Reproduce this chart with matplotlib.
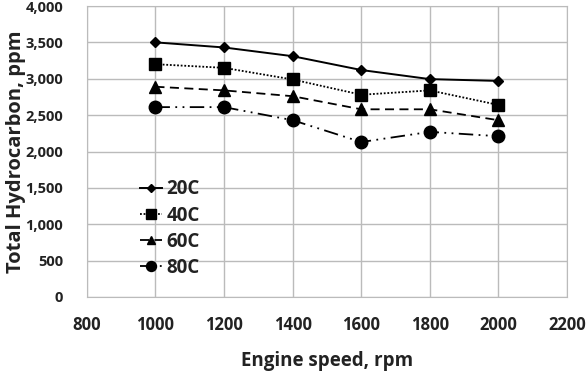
import matplotlib
matplotlib.use("Agg")
import matplotlib.pyplot as plt
from matplotlib.ticker import FuncFormatter

speed = [1000, 1200, 1400, 1600, 1800, 2000]
thc_20 = [3500, 3430, 3310, 3120, 2995, 2970]
thc_40 = [3200, 3150, 2990, 2780, 2840, 2640]
thc_60 = [2890, 2840, 2760, 2580, 2580, 2430]
thc_80 = [2610, 2610, 2430, 2130, 2270, 2210]
labels = ["20C", "40C", "60C", "80C"]

plt.rcParams['font.family'] = ['Open Sans', 'DejaVu Sans']

fig = plt.figure(figsize=(5.87, 3.75), dpi=100)
ax = fig.add_axes([0.148, 0.208, 0.818, 0.776])

styles = [
    dict(ls='-', marker='D', ms=5, lw=1.4),
    dict(ls=(0, (1, 1)), marker='s', ms=9, lw=1.3),
    dict(ls=(0, (5, 3)), marker='^', ms=8, lw=1.3),
    dict(ls=(0, (8, 3, 1, 3, 1, 3)), marker='o', ms=9, lw=1.3),
]
for y, lab, st in zip([thc_20, thc_40, thc_60, thc_80], labels, styles):
    ax.plot(speed, y, color='black', label=lab, markerfacecolor='black',
            markeredgecolor='black', **st)

ax.set_xlim(800, 2200)
ax.set_ylim(0, 4000)
ax.set_xticks(range(800, 2201, 200))
ax.set_yticks(range(0, 4001, 500))
ax.yaxis.set_major_formatter(FuncFormatter(lambda v, p: f"{int(v):,}"))
ax.grid(True, color='#bbbbbb', lw=1)
ax.set_axisbelow(True)
for s in ax.spines.values():
    s.set_color('#bbbbbb')
ax.tick_params(length=0)
for t in ax.get_xticklabels() + ax.get_yticklabels():
    t.set_fontweight('bold')
    t.set_color('#222222')
ax.tick_params(axis='y', labelsize=10.5, pad=17)
ax.tick_params(axis='x', labelsize=12, pad=14)
ax.set_xlabel("Engine speed, rpm", fontsize=13.5, fontweight='bold', color='#222222', labelpad=12)
ax.set_ylabel("Total Hydrocarbon, ppm", fontsize=14.5, fontweight='bold', color='#222222', labelpad=0)

leg = ax.legend(loc='upper left', bbox_to_anchor=(0.095, 0.43), frameon=False,
                prop={'weight': 'bold', 'size': 13.5}, handlelength=1.2,
                handletextpad=0.2, labelspacing=0.33, borderaxespad=0,
                markerscale=0.8)
for t in leg.get_texts():
    t.set_color('#222222')

fig.savefig("out.png", dpi=100)
